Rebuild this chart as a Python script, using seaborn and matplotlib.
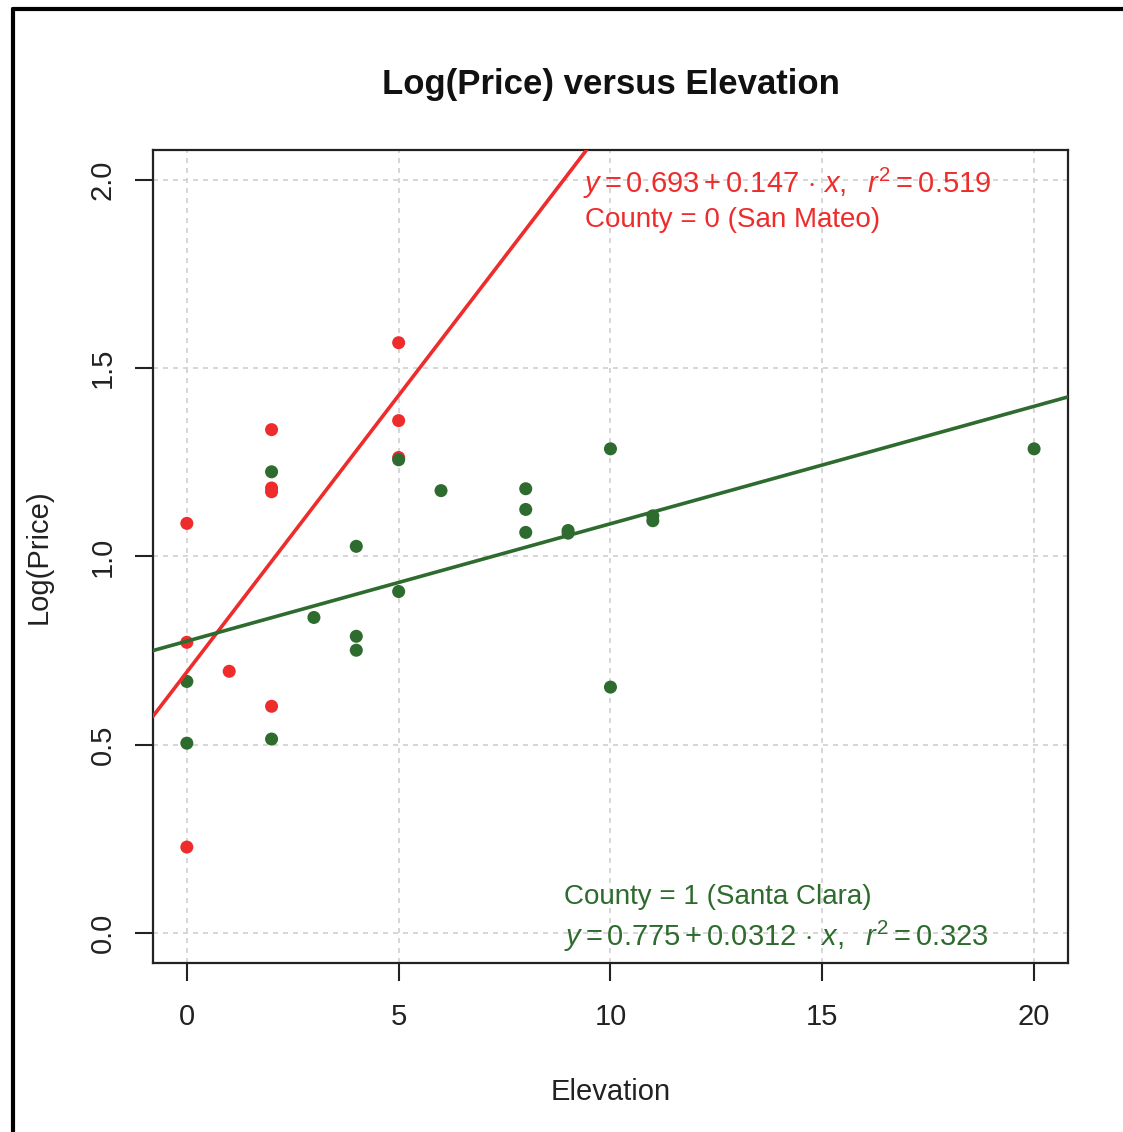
import numpy as np
import pandas as pd
import matplotlib
matplotlib.use("Agg")
import matplotlib.pyplot as plt
import seaborn as sns
from matplotlib.lines import Line2D

# Points
sm_elev = [0, 0, 0, 1, 2, 2, 2, 2, 5, 5, 5]
sm_logp = [1.088, 0.772, 0.228, 0.695, 1.337, 1.182, 1.172, 0.602, 1.568, 1.361, 1.263]
sc_elev = [0, 0, 2, 2, 3, 4, 4, 4, 5, 5, 6, 8, 8, 8, 9, 9, 10, 10, 11, 11, 20]
sc_logp = [0.668, 0.504, 1.225, 0.515, 0.838, 1.027, 0.788, 0.751, 1.257, 0.907,
           1.175, 1.180, 1.125, 1.064, 1.069, 1.062, 1.286, 0.653, 1.095, 1.108, 1.286]

# fitted lines (intercept, slope, r2)
sm_fit = (0.693, 0.147, 0.519)
sc_fit = (0.775, 0.0312, 0.323)

red = "#EE2C2C"
green = "#2E6B2E"

data = pd.DataFrame({
    "Elevation": sm_elev + sc_elev,
    "LogPrice": sm_logp + sc_logp,
    "County": ["0"] * len(sm_elev) + ["1"] * len(sc_elev),
})

sns.set_style("white")
plt.rcParams["font.family"] = ["Liberation Sans", "DejaVu Sans"]
plt.rcParams["mathtext.fontset"] = "custom"
plt.rcParams["mathtext.rm"] = "Liberation Sans"
plt.rcParams["mathtext.it"] = "Liberation Sans:italic"

fig = plt.figure(figsize=(11.23, 11.32), dpi=100)
ax = fig.add_axes([0.1362, 0.1493, 0.8148, 0.7182])

ax.grid(True, color="#d0d0d0", linestyle=(0, (3, 3)), linewidth=1.2)
ax.set_axisbelow(True)

sns.scatterplot(data=data, x="Elevation", y="LogPrice", hue="County",
                palette={"0": red, "1": green}, s=88, edgecolor="none",
                legend=False, ax=ax, zorder=3)

ax.axline((0, sm_fit[0]), slope=sm_fit[1], color=red, lw=2.6, zorder=4)
ax.axline((0, sc_fit[0]), slope=sc_fit[1], color=green, lw=2.6, zorder=4)

ax.set_xlim(-0.8, 20.8)
ax.set_ylim(-0.08, 2.08)
ax.set_xticks([0, 5, 10, 15, 20])
ax.set_yticks([0.0, 0.5, 1.0, 1.5, 2.0])
ax.set_yticklabels(["0.0", "0.5", "1.0", "1.5", "2.0"], rotation=90, va="center")
ax.tick_params(axis="x", pad=16)
ax.tick_params(axis="y", pad=13)
ax.tick_params(axis="both", direction="out", length=13, width=1.5, color="#222222",
               labelsize=21, labelcolor="#222222", bottom=True, left=True)

for sp in ax.spines.values():
    sp.set_color("#222222")
    sp.set_linewidth(1.6)

ax.set_xlabel("Elevation", fontsize=21, color="#222222", labelpad=34)
ax.set_ylabel("Log(Price)", fontsize=21, color="#222222", labelpad=26)
ax.set_title("Log(Price) versus Elevation", fontsize=25, fontweight="bold",
             color="#111111", pad=40)

ax.text(9.35, 1.99, r"$y = 0.693 + 0.147\,\cdot\,x,\ \ r^2 = 0.519$",
        color=red, fontsize=21, va="center", ha="left", zorder=5)
ax.text(9.4, 1.895, "County = 0 (San Mateo)", color=red, fontsize=20,
        va="center", ha="left", zorder=5)
ax.text(8.9, 0.095, "County = 1 (Santa Clara)", color=green, fontsize=20,
        va="center", ha="left", zorder=5)
ax.text(8.9, -0.01, r"$y = 0.775 + 0.0312\,\cdot\,x,\ \ r^2 = 0.323$",
        color=green, fontsize=21, va="center", ha="left", zorder=5)

# partial frame around the figure
fig.add_artist(Line2D([0.0116, 1.0], [0.9920, 0.9920], color="black", lw=3,
                      transform=fig.transFigure))
fig.add_artist(Line2D([0.0116, 0.0116], [0.0, 0.9920], color="black", lw=3,
                      transform=fig.transFigure))

fig.savefig("out.png", dpi=100)
